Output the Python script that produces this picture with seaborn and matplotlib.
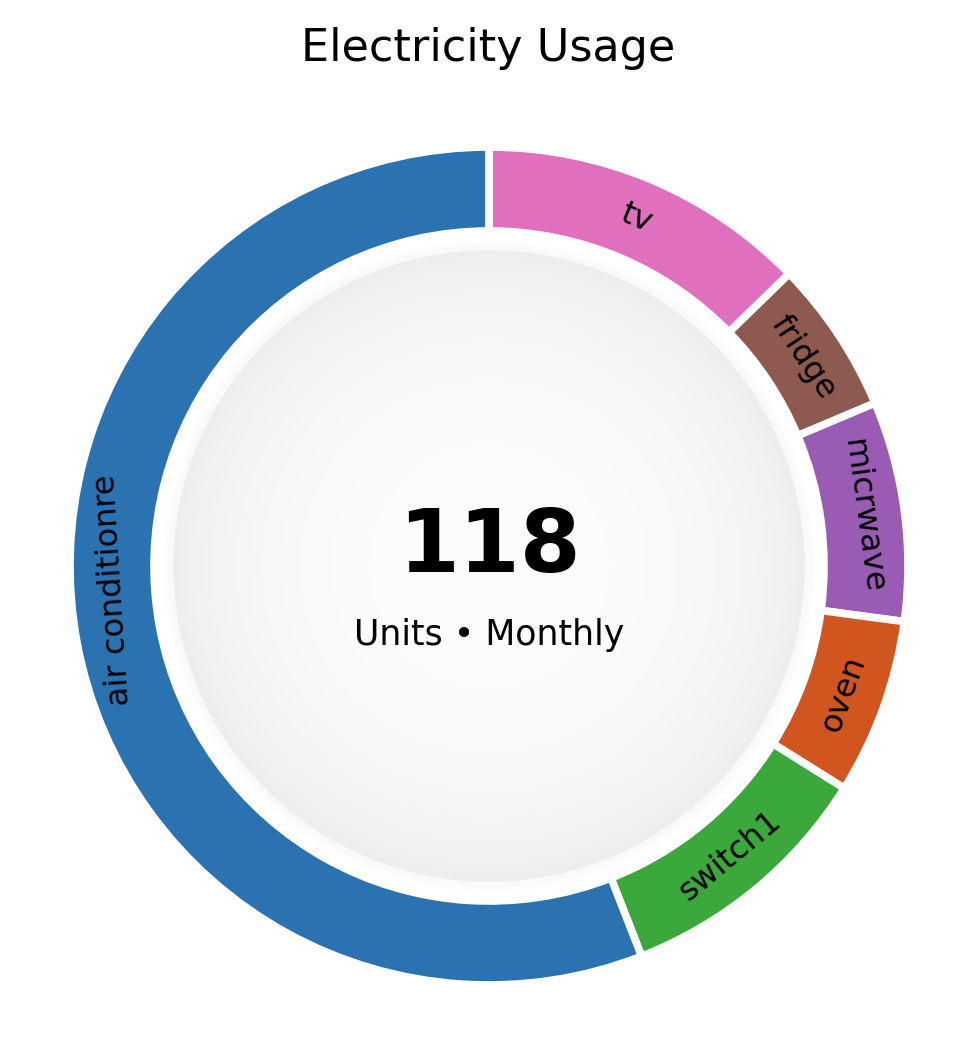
import numpy as np
import matplotlib.pyplot as plt
import seaborn as sns
from matplotlib.patches import Circle

sns.set_theme(style="white")
plt.rcParams['font.family'] = ['DejaVu Sans']

# Consumo mensal por aparelho (sentido horário a partir do topo)
aparelhos = ['tv', 'fridge', 'micrwave', 'oven', 'switch1', 'air conditionre']
consumo = [15, 7, 10, 8, 12, 66]
cores = ['#e070be', '#8e5a4f', '#9a5bb5', '#d0551f', '#3ba83b', '#2b72b0']
total = sum(consumo)

fig = plt.figure(figsize=(9.76, 10.56), dpi=100)
ax = fig.add_axes([0, 0, 1, 1])

cx, cy = 489, 490      # centro do anel (px)
r_ext = 419            # raio externo
largura = 84           # espessura do anel

ax.pie(consumo, colors=cores, startangle=90, counterclock=False,
       center=(cx, cy), radius=r_ext,
       wedgeprops=dict(width=largura, edgecolor='white', linewidth=5.5))

# disco central claro com sombra suave na borda
r_disco = 316
for k in range(10):
    ax.add_patch(Circle((cx, cy), r_disco + 1 + k * 0.9, fc='none', ec='#cfcfcf',
                        lw=1.2, alpha=0.06 * (10 - k) / 10))
n = 50
for k in range(n):
    t = k / (n - 1)
    tom = 0.985 - 0.05 * (1 - t) ** 3
    ax.add_patch(Circle((cx, cy), r_disco * (1 - t * 0.98), fc=(tom, tom, tom), ec='none'))

# rótulos ao longo do anel
acum = np.cumsum([0] + consumo)
ajuste = [0, 0, 0, 0, 0, 7]
r_meio = r_ext - largura / 2
for i, nome in enumerate(aparelhos):
    theta = (acum[i] + acum[i + 1]) / 2 / total * 360 + ajuste[i]
    phi = np.radians(90 - theta)
    x = cx + r_meio * np.cos(phi)
    y = cy + r_meio * np.sin(phi)
    rot = (-theta) % 360
    if 180 < rot < 270:
        rot -= 180
    ax.text(x, y, nome, rotation=rot, rotation_mode='anchor', ha='center', va='center',
            fontsize=23, color='black')

ax.text(cx, 1056 - 548, f'{total}', ha='center', va='center', fontsize=63,
        fontweight='bold', color='black')
ax.text(cx, 1056 - 635, 'Units \u2022 Monthly', ha='center', va='center', fontsize=25,
        color='black')

ax.set_xlim(0, 976)
ax.set_ylim(0, 1056)
ax.set_aspect('equal')
ax.axis('off')

fig.text(0.5, 1 - 49 / 1056, 'Electricity Usage', ha='center', va='center', fontsize=32,
         color='black')

fig.savefig('out.png', dpi=100)
